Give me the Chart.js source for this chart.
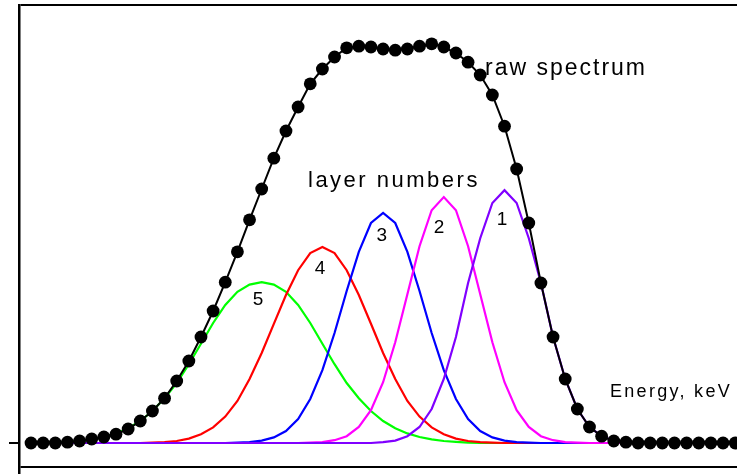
<!DOCTYPE html>
<html>
<head>
<meta charset="utf-8">
<script src="https://cdn.jsdelivr.net/npm/chart.js@4.4.1/dist/chart.umd.min.js"></script>
<style>
  html, body { margin: 0; padding: 0; background: #fff; }
  #wrap { width: 737px; height: 474px; }
</style>
</head>
<body>
<div id="wrap"><canvas id="spectrum" width="737" height="474"></canvas></div>
<script>
// Detector channels along the energy axis
const channels = [0,1,2,3,4,5,6,7,8,9,10,11,12,13,14,15,16,17,18,19,20,21,22,23,24,25,26,27,28,29,
  30,31,32,33,34,35,36,37,38,39,40,41,42,43,44,45,46,47,48,49,50,51,52,53,54,55,56,57,58];

// Measured spectrum (counts per channel)
const rawSpectrum = [0,0,0,2,5,10,15,22,35,55,80,112,155,205,265,330,402,478,558,635,712,780,840,898,935,
  965,988,992,990,985,982,985,992,998,990,975,952,920,870,792,685,550,400,265,160,85,40,17,5,2,
  0,0,0,0,0,0,0,0,0];

// Contribution of each layer
const layer1 = [0,0,0,0,0,0,0,0,0,0,0,0,0,0,0,0,0,0,0,0,0,0,0,0,0,0,0,0,0,
  2,6,17,40,85,160,265,400,512,600,632,600,512,400,265,160,85,40,17,6,2,
  0,0,0,0,0,0,0,0,0];
const layer2 = [0,0,0,0,0,0,0,0,0,0,0,0,0,0,0,0,0,0,0,0,0,0,0,
  1,2,7,17,40,82,152,252,372,492,582,615,582,492,372,252,152,82,40,17,7,2,1,
  0,0,0,0,0,0,0,0,0,0,0,0,0];
const layer3 = [0,0,0,0,0,0,0,0,0,0,0,0,0,0,0,0,0,
  1,2,6,14,30,60,110,182,275,380,478,550,575,550,478,380,275,182,110,60,30,14,6,2,1,
  0,0,0,0,0,0,0,0,0,0,0,0,0,0,0,0,0];
const layer4 = [0,0,0,0,0,0,0,0,0,0,
  1,2,5,11,22,39,66,105,160,225,298,370,432,475,490,475,432,370,298,225,160,105,66,39,22,11,5,2,1,
  0,0,0,0,0,0,0,0,0,0,0,0,0,0,0,0,0,0,0,0];
const layer5 = [0,0,1,3,5,9,15,24,37,55,80,112,150,197,248,300,345,378,396,402,396,378,345,300,248,
  197,150,112,80,55,37,24,15,9,5,3,1,
  0,0,0,0,0,0,0,0,0,0,0,0,0,0,0,0,0,0,0,0,0,0];

const layerNames = ['1', '2', '3', '4', '5'];
const layerColors = ['#8000ff', '#ff00ff', '#0000ff', '#ff0000', '#00ff00'];
const layerSeries = [layer1, layer2, layer3, layer4, layer5];

// Where each layer number sits (channel, counts)
const numberSpots = [
  { ch: 38.8, v: 557 },
  { ch: 33.6, v: 537 },
  { ch: 28.9, v: 518 },
  { ch: 23.8, v: 435 },
  { ch: 18.7, v: 357 }
];

// Frame lines: bottom rule, baseline tick, top rule
const FRAME_BOTTOM = -60;
const FRAME_TOP = 1095;

const toPoints = arr => arr.map((v, i) => ({ x: channels[i], y: v }));

const datasets = [{
  label: 'raw spectrum',
  data: toPoints(rawSpectrum),
  borderColor: '#000',
  backgroundColor: '#000',
  borderWidth: 2,
  pointRadius: 6.4,
  pointBorderWidth: 0,
  pointBackgroundColor: '#000',
  tension: 0
}];
layerSeries.forEach((arr, k) => {
  datasets.push({
    label: 'layer ' + layerNames[k],
    data: toPoints(arr),
    borderColor: layerColors[k],
    borderWidth: 2.2,
    pointRadius: 0,
    tension: 0
  });
});

const textPlugin = {
  id: 'spectrumText',
  afterDatasetsDraw(chart) {
    const { ctx, scales: { x, y } } = chart;
    ctx.save();
    ctx.fillStyle = '#000';
    ctx.textAlign = 'left';
    ctx.textBaseline = 'alphabetic';

    ctx.font = '23px "Liberation Sans", Arial, sans-serif';
    ctx.letterSpacing = '2px';
    ctx.fillText('raw spectrum', 485, 75);

    ctx.font = '22px "Liberation Sans", Arial, sans-serif';
    ctx.letterSpacing = '2.5px';
    ctx.fillText('layer numbers', 308, 187);

    ctx.font = '18px "Liberation Sans", Arial, sans-serif';
    ctx.letterSpacing = '2.3px';
    ctx.fillText('Energy, keV', 610, 397);

    ctx.font = '19px "Liberation Sans", Arial, sans-serif';
    ctx.letterSpacing = '0px';
    ctx.textAlign = 'center';
    ctx.textBaseline = 'middle';
    numberSpots.forEach((s, k) => {
      ctx.fillText(layerNames[k], x.getPixelForValue(s.ch), y.getPixelForValue(s.v));
    });
    ctx.restore();
  }
};

new Chart(document.getElementById('spectrum'), {
  type: 'line',
  data: { datasets },
  options: {
    responsive: false,
    animation: false,
    devicePixelRatio: 1,
    layout: { autoPadding: false, padding: { top: 5, right: 0, bottom: 0, left: 0 } },
    plugins: { legend: { display: false }, tooltip: { enabled: false } },
    scales: {
      x: { type: 'linear', display: false, min: -0.99, max: 58.15 },
      y: {
        min: -77.5,
        max: FRAME_TOP,
        afterFit(scale) { scale.width = 19; },
        afterBuildTicks(scale) {
          scale.ticks = [{ value: FRAME_BOTTOM }, { value: 0 }, { value: FRAME_TOP }];
        },
        ticks: { display: false },
        grid: {
          drawOnChartArea: true,
          drawTicks: true,
          tickLength: 10,
          lineWidth: 2,
          tickWidth: 2,
          color: c => (c.tick && c.tick.value === 0) ? 'rgba(0,0,0,0)' : '#000',
          tickColor: c => (c.tick && c.tick.value === 0) ? '#000' : 'rgba(0,0,0,0)'
        },
        border: { display: true, color: '#000', width: 2.5 }
      }
    }
  },
  plugins: [textPlugin]
});
</script>
</body>
</html>
